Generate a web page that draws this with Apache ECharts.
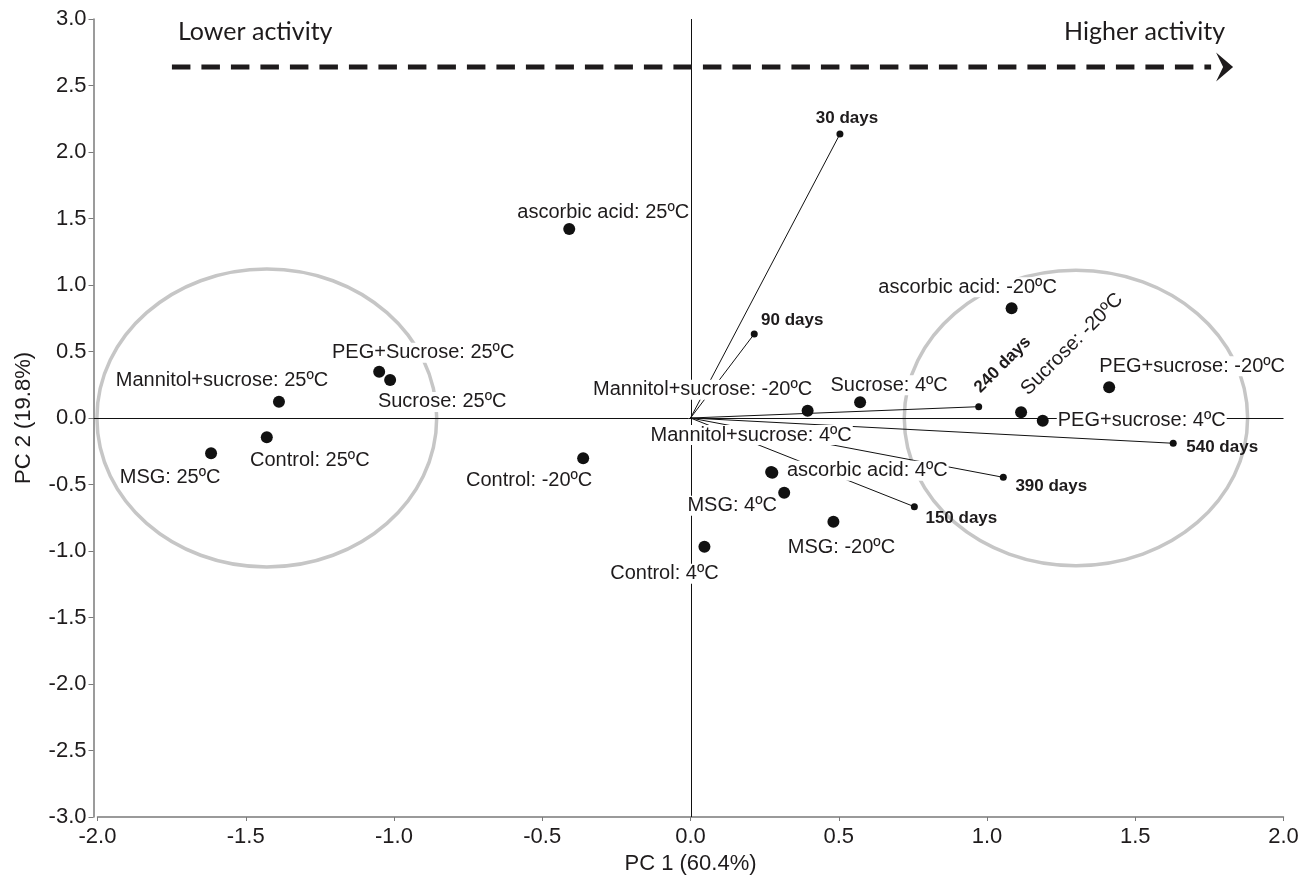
<!DOCTYPE html>
<html><head><meta charset="utf-8">
<script src="https://cdn.jsdelivr.net/npm/echarts@6/dist/echarts.min.js"></script>
<style>html,body{margin:0;padding:0;background:#fff}#c{width:1301px;height:883px}</style>
</head><body><div id="c"></div>
<script>
// ---- data ----
const sampleNames = [
  'ascorbic acid: 25ºC', 'PEG+Sucrose: 25ºC', 'Sucrose: 25ºC', 'Mannitol+sucrose: 25ºC',
  'Control: 25ºC', 'MSG: 25ºC', 'Control: -20ºC', 'Mannitol+sucrose: -20ºC',
  'Sucrose: 4ºC', 'Mannitol+sucrose: 4ºC', 'ascorbic acid: 4ºC', 'MSG: 4ºC',
  'MSG: -20ºC', 'Control: 4ºC', 'ascorbic acid: -20ºC', 'PEG+sucrose: -20ºC',
  'Sucrose: -20ºC', 'PEG+sucrose: 4ºC'
];
const sampleX = [-0.409, -1.050, -1.013, -1.388, -1.429, -1.617, -0.362, 0.395,
  0.572, 0.272, 0.276, 0.316, 0.482, 0.047, 1.083, 1.412, 1.115, 1.188];
const sampleY = [1.421, 0.348, 0.286, 0.123, -0.145, -0.265, -0.303, 0.055,
  0.118, -0.406, -0.411, -0.562, -0.780, -0.968, 0.825, 0.231, 0.043, -0.020];

const dayNames = ['30 days', '90 days', '150 days', '240 days', '390 days', '540 days'];
const dayX = [0.504, 0.215, 0.755, 0.972, 1.055, 1.628];
const dayY = [2.135, 0.632, -0.667, 0.085, -0.446, -0.190];

const groupCenterX = [-1.429, 1.300];
const groupCenterY = [0, 0];
const groupRadiusX = [0.573, 0.579];
const groupRadiusY = [1.12, 1.11];

const arrowX = [-1.749, 1.83];
const arrowY = [2.64];
const arrowLabels = ['Lower activity', 'Higher activity'];

const axisNames = ['PC 1 (60.4%)', 'PC 2 (19.8%)'];

// ---- label layout (screen offset of label centre from point, px; rotation deg) ----
const sampleLabelLayout = {
  'ascorbic acid: 25ºC': [34, -17],
  'PEG+Sucrose: 25ºC': [44, -19],
  'Sucrose: 25ºC': [52, 22],
  'Mannitol+sucrose: 25ºC': [-57, -21],
  'Control: 25ºC': [43, 23],
  'MSG: 25ºC': [-41, 24],
  'Control: -20ºC': [-54, 22],
  'Mannitol+sucrose: -20ºC': [-105, -21],
  'Sucrose: 4ºC': [29, -17],
  'Mannitol+sucrose: 4ºC': [-20, -37],
  'ascorbic acid: 4ºC': [95, -2],
  'MSG: 4ºC': [-52, 13],
  'MSG: -20ºC': [8, 26],
  'Control: 4ºC': [-40, 27],
  'ascorbic acid: -20ºC': [-44, -21],
  'PEG+sucrose: -20ºC': [83, -21],
  'Sucrose: -20ºC': [51, -68, 45],
  'PEG+sucrose: 4ºC': [99, 0]
};
const dayLabelLayout = {
  '30 days': [7, -16],
  '90 days': [38, -14],
  '150 days': [47, 12],
  '240 days': [24, -42, 45],
  '390 days': [48, 9],
  '540 days': [49, 4]
};

function labelFor(layout) {
  const dx = layout[0], dy = layout[1], r = layout[2] || 0;
  const a = r * Math.PI / 180;
  // offset is applied in the label's rotated frame
  const ox = dx * Math.cos(a) - dy * Math.sin(a);
  const oy = dx * Math.sin(a) + dy * Math.cos(a);
  return { offset: [ox, oy], rotate: r };
}

const TXT = '#1e1b1c';
const AX = '#7a7a7a';
const FONT = 'Liberation Sans';

const chart = echarts.init(document.getElementById('c'), null, { renderer: 'canvas' });

const option = {
  animation: false,
  backgroundColor: '#fff',
  grid: { left: 97.5, right: 17.5, top: 19, bottom: 66, containLabel: false, outerBoundsMode: 'none' },
  xAxis: {
    type: 'value', min: -2, max: 2, interval: 0.5,
    name: axisNames[0], nameLocation: 'middle', nameGap: 33,
    nameTextStyle: { fontFamily: FONT, fontSize: 22, color: TXT },
    axisLine: { show: true, onZero: false, lineStyle: { color: AX, width: 1.5 } },
    axisTick: { show: true, length: 4, lineStyle: { color: AX, width: 1 } },
    axisLabel: { fontFamily: FONT, fontSize: 22, color: TXT, margin: 9,
      formatter: v => v.toFixed(1) },
    splitLine: { show: false }
  },
  yAxis: {
    type: 'value', min: -3, max: 3, interval: 0.5, offset: 4,
    name: axisNames[1], nameLocation: 'middle', nameGap: 59, nameRotate: 90,
    nameTextStyle: { fontFamily: FONT, fontSize: 22, color: TXT },
    axisLine: { show: true, onZero: false, lineStyle: { color: AX, width: 1.5 } },
    axisTick: { show: true, length: 5, lineStyle: { color: AX, width: 1 } },
    axisLabel: { fontFamily: FONT, fontSize: 22, color: TXT, margin: 7,
      formatter: v => v.toFixed(1) },
    splitLine: { show: false }
  },
  series: [
    // group ellipses
    {
      type: 'custom', z: 1, silent: true, clip: false,
      data: groupCenterX.map((x, i) => [x, groupCenterY[i], groupRadiusX[i], groupRadiusY[i]]),
      renderItem: (params, api) => {
        const c = api.coord([api.value(0), api.value(1)]);
        const s = api.size([api.value(2), api.value(3)]);
        return { type: 'ellipse', shape: { cx: c[0], cy: c[1], rx: s[0], ry: s[1] },
          style: { fill: 'none', stroke: '#c6c6c6', lineWidth: 3.5 } };
      }
    },
    // zero lines
    {
      type: 'custom', z: 1, silent: true, clip: false,
      data: [[0, 0]],
      renderItem: (params, api) => {
        const cs = params.coordSys;
        const o = api.coord([api.value(0), api.value(1)]);
        const ox = Math.round(o[0]) + 0.5, oy = Math.round(o[1]) + 0.5;
        return { type: 'group', children: [
          { type: 'line', shape: { x1: ox, y1: cs.y, x2: ox, y2: cs.y + cs.height },
            style: { stroke: '#111', lineWidth: 1 } },
          { type: 'line', shape: { x1: cs.x - 4, y1: oy, x2: cs.x + cs.width, y2: oy },
            style: { stroke: '#111', lineWidth: 1 } }
        ] };
      }
    },
    // activity arrow
    {
      type: 'custom', z: 1, silent: true, clip: false,
      data: [[arrowX[0], arrowX[1], arrowY[0]]],
      renderItem: (params, api) => {
        const p0 = api.coord([api.value(0), api.value(2)]);
        const p1 = api.coord([api.value(1), api.value(2)]);
        const y = p0[1];
        return { type: 'group', children: [
          { type: 'line', shape: { x1: p0[0], y1: y, x2: p1[0] - 22, y2: y },
            style: { stroke: TXT, lineWidth: 5, lineDash: [18.5, 11] } },
          { type: 'polygon', shape: { points: [[p1[0], y], [p1[0] - 17, y - 14.5], [p1[0] - 10, y], [p1[0] - 17, y + 14.5]] },
            style: { fill: TXT } },
          { type: 'text', x: p0[0] + 6, y: y - 35,
            style: { text: arrowLabels[0], fontFamily: 'Lato', fontSize: 25, fill: TXT, align: 'left', verticalAlign: 'middle' } },
          { type: 'text', x: p1[0] - 8, y: y - 35,
            style: { text: arrowLabels[1], fontFamily: 'Lato', fontSize: 25, fill: TXT, align: 'right', verticalAlign: 'middle' } }
        ] };
      }
    },
    // loading vectors
    {
      type: 'lines', coordinateSystem: 'cartesian2d', z: 2, silent: true,
      data: dayX.map((x, i) => ({ coords: [[0, 0], [x, dayY[i]]] })),
      lineStyle: { color: '#111', width: 1, opacity: 1, curveness: 0 }
    },
    // vector end points with day labels
    {
      type: 'scatter', z: 4, silent: true, symbolSize: 7,
      itemStyle: { color: '#111', opacity: 1 },
      data: dayX.map((x, i) => ({ value: [x, dayY[i]], name: dayNames[i],
        label: labelFor(dayLabelLayout[dayNames[i]]) })),
      label: { show: true, formatter: '{b}', position: 'inside', align: 'center', verticalAlign: 'middle',
        fontFamily: FONT, fontWeight: 'bold', fontSize: 17, color: TXT, opacity: 1 }
    },
    // sample labels (white background hides lines beneath)
    {
      type: 'scatter', z: 3, silent: true, symbolSize: 12,
      itemStyle: { color: 'rgba(0,0,0,0)', opacity: 1 },
      data: sampleX.map((x, i) => ({ value: [x, sampleY[i]], name: sampleNames[i],
        label: labelFor(sampleLabelLayout[sampleNames[i]]) })),
      label: { show: true, formatter: '{b}', position: 'inside', align: 'center', verticalAlign: 'middle',
        fontFamily: FONT, fontSize: 20, lineHeight: 20, color: TXT, opacity: 1,
        backgroundColor: '#fff', padding: [0, 1] }
    },
    // sample points
    {
      type: 'scatter', z: 5, silent: true, symbolSize: 12,
      itemStyle: { color: '#111', opacity: 1 },
      data: sampleX.map((x, i) => [x, sampleY[i]])
    }
  ]
};
chart.setOption(option);
</script></body></html>
